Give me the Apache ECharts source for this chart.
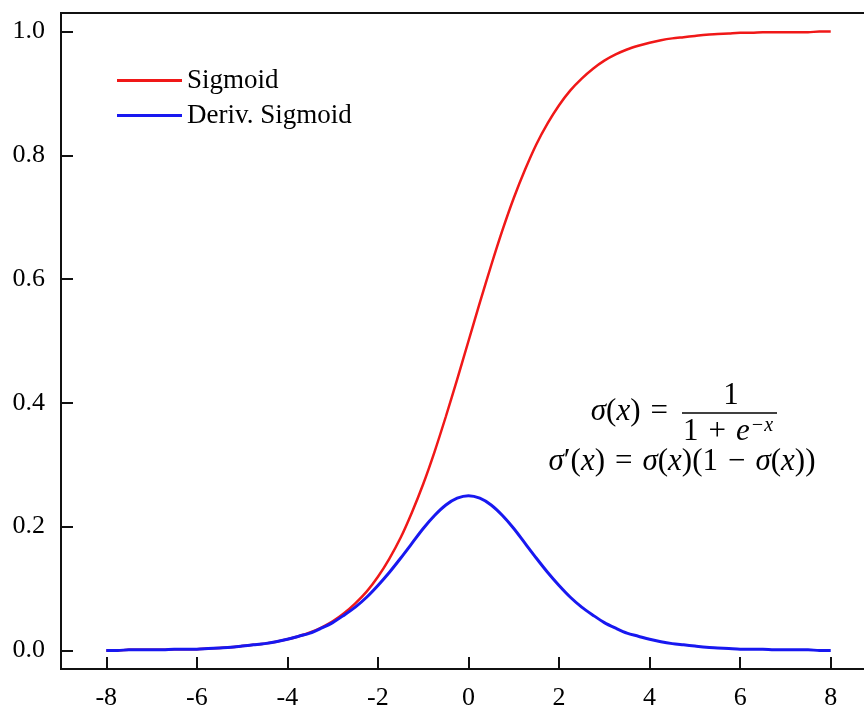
<!DOCTYPE html>
<html>
<head>
<meta charset="utf-8">
<script src="https://cdn.jsdelivr.net/npm/echarts@6/dist/echarts.min.js"></script>
<style>
  html, body { margin: 0; padding: 0; background: #fff; }
  #main { width: 864px; height: 706px; }
</style>
</head>
<body>
<div id="main"></div>
<script>
// values, x from -8 to 8 step 0.25
var xs = [-8, -7.75, -7.5, -7.25, -7, -6.75, -6.5, -6.25, -6, -5.75, -5.5, -5.25, -5, -4.75, -4.5, -4.25,
          -4, -3.75, -3.5, -3.25, -3, -2.75, -2.5, -2.25, -2, -1.75, -1.5, -1.25, -1, -0.75, -0.5, -0.25,
          0, 0.25, 0.5, 0.75, 1, 1.25, 1.5, 1.75, 2, 2.25, 2.5, 2.75, 3, 3.25, 3.5, 3.75,
          4, 4.25, 4.5, 4.75, 5, 5.25, 5.5, 5.75, 6, 6.25, 6.5, 6.75, 7, 7.25, 7.5, 7.75, 8];
var sigmoidVals = [0.000, 0.000, 0.001, 0.001, 0.001, 0.001, 0.002, 0.002, 0.002, 0.003, 0.004, 0.005, 0.007, 0.009, 0.011, 0.014,
                   0.018, 0.023, 0.029, 0.037, 0.047, 0.060, 0.076, 0.095, 0.119, 0.148, 0.182, 0.223, 0.269, 0.321, 0.378, 0.438,
                   0.500, 0.562, 0.622, 0.679, 0.731, 0.777, 0.818, 0.852, 0.881, 0.905, 0.924, 0.940, 0.953, 0.963, 0.971, 0.977,
                   0.982, 0.986, 0.989, 0.991, 0.993, 0.995, 0.996, 0.997, 0.998, 0.998, 0.999, 0.999, 0.999, 0.999, 0.999, 1.000, 1.000];
var derivVals = [0.000, 0.000, 0.001, 0.001, 0.001, 0.001, 0.002, 0.002, 0.002, 0.003, 0.004, 0.005, 0.007, 0.009, 0.011, 0.014,
                 0.018, 0.023, 0.028, 0.036, 0.045, 0.057, 0.070, 0.086, 0.105, 0.126, 0.149, 0.173, 0.197, 0.218, 0.235, 0.246,
                 0.250, 0.246, 0.235, 0.218, 0.197, 0.173, 0.149, 0.126, 0.105, 0.086, 0.070, 0.057, 0.045, 0.036, 0.028, 0.023,
                 0.018, 0.014, 0.011, 0.009, 0.007, 0.005, 0.004, 0.003, 0.002, 0.002, 0.002, 0.001, 0.001, 0.001, 0.001, 0.000, 0.000];
var xTicks = [-8, -6, -4, -2, 0, 2, 4, 6, 8];
var yTicks = [0, 0.2, 0.4, 0.6, 0.8, 1.0];

function pairs(vals) {
  return xs.map(function (x, i) { return [x, vals[i]]; });
}

var serif = '"Liberation Serif", "Times New Roman", serif';
var chart = echarts.init(document.getElementById('main'));

var mathRich = {
  i: { fontFamily: serif, fontStyle: 'italic', fontSize: 31, fill: '#000' },
  n: { fontFamily: serif, fontSize: 31, fill: '#000' },
  o: { fontFamily: serif, fontSize: 31, fill: '#000', padding: [0, 10, 0, 10] },
  s: { fontFamily: serif, fontStyle: 'italic', fontSize: 20, fill: '#000', padding: [0, 0, 13, 1] }
};

var option = {
  backgroundColor: '#fff',
  animation: false,
  grid: {
    left: 61, top: 13, right: -12, bottom: 37,
    outerBoundsMode: 'none',
    show: true, borderColor: '#111', borderWidth: 2
  },
  legend: {
    orient: 'vertical',
    left: 112, top: 62,
    icon: 'rect',
    itemWidth: 65, itemHeight: 3, itemGap: 8,
    textStyle: { fontFamily: serif, fontSize: 27, color: '#000' },
    data: ['Sigmoid', 'Deriv. Sigmoid']
  },
  xAxis: {
    type: 'value', min: -9, max: 9,
    splitLine: { show: false },
    axisLine: { show: true, onZero: false, lineStyle: { color: '#111', width: 2 } },
    axisTick: { show: true, inside: true, length: 12, customValues: xTicks, lineStyle: { color: '#111', width: 2 } },
    axisLabel: { customValues: xTicks, margin: 16, fontFamily: serif, fontSize: 26, color: '#000' }
  },
  yAxis: {
    type: 'value', min: -0.03, max: 1.03,
    splitLine: { show: false },
    axisLine: { show: true, onZero: false, lineStyle: { color: '#111', width: 2 } },
    axisTick: { show: true, inside: true, length: 12, customValues: yTicks, lineStyle: { color: '#111', width: 2 } },
    axisLabel: {
      customValues: yTicks, margin: 16, fontFamily: serif, fontSize: 26, color: '#000',
      formatter: function (v) { return v.toFixed(1); }
    }
  },
  series: [
    {
      name: 'Sigmoid', type: 'line', data: pairs(sigmoidVals),
      symbol: 'none', smooth: 0.3,
      lineStyle: { color: '#f01818', width: 2.5 }, itemStyle: { color: '#f01818' }
    },
    {
      name: 'Deriv. Sigmoid', type: 'line', data: pairs(derivVals),
      symbol: 'none', smooth: 0.3,
      lineStyle: { color: '#1818f0', width: 3 }, itemStyle: { color: '#1818f0' }
    }
  ],
  graphic: [
    {
      type: 'text', x: 678, y: 412,
      style: {
        text: '{i|σ}{n|(}{i|x}{n|)}{o|=}',
        align: 'right', verticalAlign: 'middle',
        rich: mathRich
      }
    },
    {
      type: 'text', x: 731, y: 396,
      style: { text: '1', fontFamily: serif, fontSize: 31, fill: '#000', align: 'center', verticalAlign: 'middle' }
    },
    {
      type: 'line', shape: { x1: 682, y1: 413, x2: 777, y2: 413 },
      style: { stroke: '#000', lineWidth: 1.5 }
    },
    {
      type: 'text', x: 728, y: 432,
      style: {
        text: '{n|1}{o|+}{i|e}{s|−x}',
        align: 'center', verticalAlign: 'middle',
        rich: mathRich
      }
    },
    {
      type: 'text', x: 682, y: 462,
      style: {
        text: '{i|σ}{n|′(}{i|x}{n|)}{o|=}{i|σ}{n|(}{i|x}{n|)(1}{o|−}{i|σ}{n|(}{i|x}{n|))}',
        align: 'center', verticalAlign: 'middle',
        rich: mathRich
      }
    }
  ]
};
chart.setOption(option);
</script>
</body>
</html>
